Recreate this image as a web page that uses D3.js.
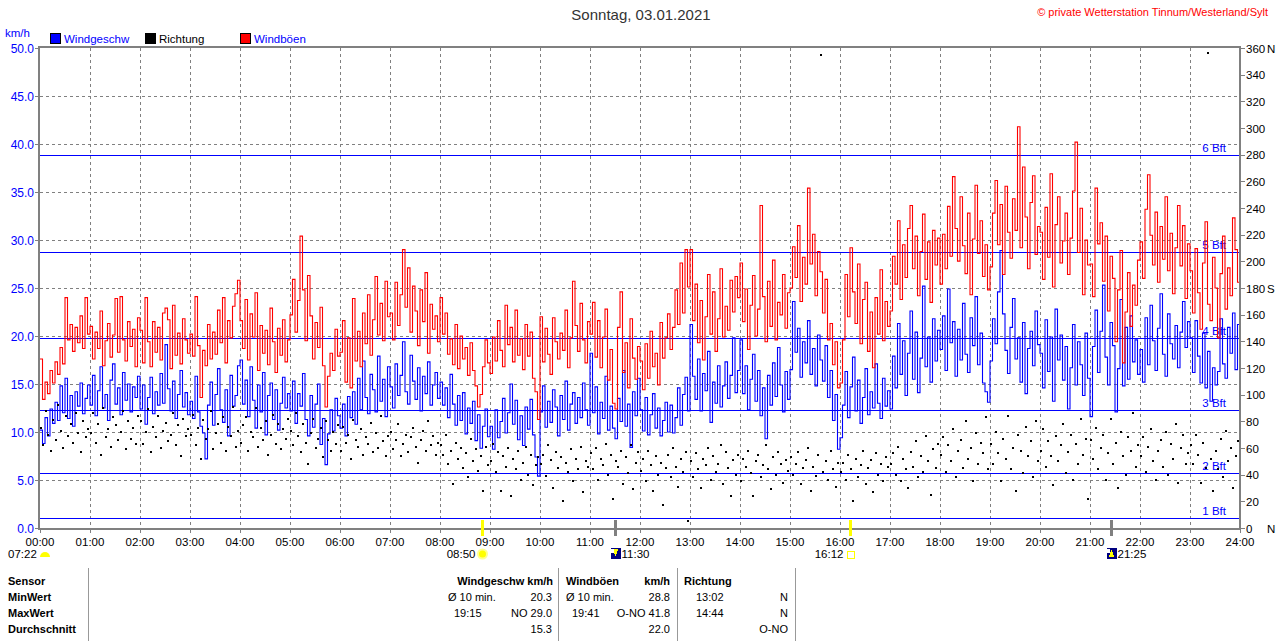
<!DOCTYPE html>
<html><head><meta charset="utf-8">
<script src="https://cdn.jsdelivr.net/npm/d3@7"></script>
<style>body{margin:0;background:#fff}svg{display:block;font-family:"Liberation Sans",Arial,sans-serif}</style>
</head><body><script>
const width = 1280, height = 641;

// 3-minute samples, km/h (one row per hour)
const windSpeed = [
 10.2,8.8,11.5,9.6,12.4,10.9,13.1,11.2,14.8,12.0,15.6,11.4,13.8,10.6,14.2,12.7,15.1,11.9,13.5,14.9,
 12.8,15.9,11.7,14.3,16.8,12.5,13.9,11.2,15.4,17.1,12.9,14.6,11.8,16.2,13.3,15.0,12.1,14.7,13.6,15.8,
 12.4,14.9,10.8,13.6,15.7,11.9,14.2,12.8,16.1,13.0,19.1,14.5,12.2,15.3,11.4,13.9,16.4,12.6,14.1,11.8,
 13.2,11.4,15.8,12.1,10.6,9.9,7.2,12.8,15.2,10.7,13.9,16.6,12.3,11.0,14.4,9.6,15.9,12.7,13.8,16.9,
 17.5,12.9,15.4,11.6,16.8,13.3,10.4,14.9,12.1,16.2,9.7,13.8,15.1,11.3,14.4,10.2,13.0,15.7,12.5,14.0,
 12.2,15.3,10.9,14.0,12.7,16.1,11.3,9.6,13.8,10.5,12.9,15.0,8.7,11.4,6.6,9.8,12.3,10.1,13.5,11.7,
 10.4,12.9,9.6,13.7,11.5,14.2,10.8,15.6,12.3,17.4,13.6,11.9,16.0,14.4,12.1,17.9,13.2,15.5,11.6,16.8,
 14.7,12.5,17.1,13.8,15.9,19.4,14.2,12.9,18.0,15.3,13.4,16.7,12.2,15.8,14.0,17.3,12.8,14.9,16.2,13.5,
 15.2,12.8,14.6,11.5,16.0,12.9,10.7,13.8,11.2,14.1,9.8,12.5,10.9,13.2,9.1,11.8,8.3,10.6,12.4,9.5,
 10.6,8.2,12.3,9.4,11.1,13.5,9.9,12.0,15.0,10.8,13.3,9.2,11.7,8.6,12.6,10.3,13.4,9.7,7.4,5.4,
 12.1,14.8,10.5,13.2,11.0,14.4,12.6,9.6,13.8,11.3,15.3,10.2,12.9,14.1,10.9,13.6,11.5,15.1,12.3,10.7,
 18.2,12.0,14.7,9.8,13.1,11.4,15.8,10.2,12.7,10.4,9.3,13.5,11.1,16.4,10.6,12.9,8.4,14.2,11.7,15.6,
 12.3,10.1,13.6,9.7,11.8,14.0,10.4,12.5,9.6,11.2,13.1,10.0,12.8,9.9,11.5,14.6,10.7,13.9,15.7,12.2,
 21.2,15.8,13.4,17.6,12.2,16.1,14.3,18.4,11.0,15.2,13.0,16.9,12.6,14.8,17.3,13.5,15.9,19.8,14.1,16.4,
 19.6,14.0,16.9,12.3,15.5,18.1,13.2,16.4,11.7,14.6,9.3,15.9,12.8,17.2,13.7,18.8,14.9,12.1,16.3,13.4,
 16.5,23.6,18.3,20.8,15.7,19.4,17.2,21.6,16.0,18.7,14.8,20.1,17.5,15.3,19.0,13.6,16.4,11.2,13.9,8.2,
 9.4,12.8,16.3,11.5,14.7,17.8,12.2,15.4,10.9,13.6,16.6,11.8,14.2,12.5,17.1,13.0,11.4,15.6,12.7,14.3,
 12.4,17.9,14.6,21.3,16.0,19.5,13.8,18.2,22.6,15.5,20.4,14.1,17.7,25.2,16.8,19.9,15.2,21.8,17.4,20.6,
 18.6,22.1,16.4,24.9,19.3,21.5,15.8,20.7,17.5,23.4,18.1,16.2,21.9,19.0,24.1,17.0,20.3,15.1,14.2,13.1,
 17.4,21.8,19.2,24.6,28.9,22.3,18.5,16.1,20.9,23.9,17.6,19.8,15.2,21.4,14.0,18.7,20.5,16.9,22.6,19.1,
 18.2,14.6,21.7,16.3,19.9,13.2,22.8,17.5,20.1,15.4,18.9,12.4,16.7,21.2,14.9,19.4,17.0,13.8,20.3,15.6,
 11.6,18.9,22.7,16.2,20.5,25.3,17.8,14.9,21.4,19.0,12.1,16.6,23.8,14.8,20.9,15.5,22.1,17.3,19.6,16.0,
 18.6,15.2,21.9,17.0,23.2,19.5,16.4,20.8,24.4,18.1,15.8,22.3,19.2,17.6,21.1,16.7,20.4,23.6,18.8,21.5,
 19.8,16.2,21.6,17.9,15.1,20.3,14.6,18.4,13.2,16.7,14.9,16.3,21.8,17.1,15.6,20.9,18.2,22.4,16.5,21.2
];
const windGust = [
 17.6,13.4,15.2,14.0,16.4,15.1,17.3,16.0,18.8,17.1,24.0,19.6,21.2,18.4,20.9,19.3,22.1,18.7,24.0,20.2,
 21.0,17.6,20.4,18.7,22.6,16.9,19.5,21.3,17.8,20.1,23.9,18.3,24.1,19.6,17.4,21.5,18.9,20.7,16.8,21.9,
 20.6,17.2,24.0,19.4,16.8,21.5,18.3,20.9,17.5,22.4,22.9,21.7,16.6,23.2,18.0,20.3,17.1,21.8,19.6,18.2,
 20.2,17.9,24.1,19.0,13.6,18.5,16.9,21.2,17.6,20.4,18.1,22.7,19.3,24.0,17.2,21.6,19.8,23.1,24.4,25.8,
 21.6,18.7,23.8,17.5,22.3,19.9,24.5,16.4,21.1,18.2,20.6,17.0,22.9,19.4,16.2,20.8,18.0,21.7,17.3,19.6,
 22.2,25.9,20.4,23.7,30.4,24.8,19.5,26.3,22.1,17.6,21.4,18.8,23.0,16.9,12.6,15.8,18.2,16.4,20.7,17.9,
 18.3,21.6,15.2,19.8,14.6,23.9,17.4,20.5,16.8,22.4,19.2,24.3,18.0,21.7,26.2,20.1,23.4,19.5,25.7,22.0,
 22.4,19.6,25.6,21.1,24.3,29.0,23.0,27.1,20.4,25.2,22.6,19.0,24.8,21.5,26.6,18.2,23.3,20.7,22.1,19.4,
 24.0,20.2,22.4,18.1,19.7,17.0,21.2,16.6,20.0,17.6,18.8,15.9,19.3,16.4,14.8,12.6,13.9,16.8,19.6,17.2,
 16.1,19.9,17.4,21.6,18.5,16.8,23.2,19.1,20.9,17.3,22.7,18.0,19.7,16.5,21.2,17.9,20.4,15.6,14.2,11.3,
 22.0,17.3,20.8,18.1,16.0,21.9,19.4,17.6,20.3,18.5,22.7,16.7,19.8,25.7,21.1,18.4,23.4,19.6,17.2,21.5,
 20.2,23.5,17.8,21.6,16.7,19.9,22.8,15.4,18.6,13.0,12.4,20.9,24.6,16.2,19.3,14.6,21.8,17.7,15.5,18.9,
 17.4,14.4,19.2,15.6,20.5,16.8,18.2,14.9,21.4,17.7,19.8,22.3,18.6,20.9,24.8,21.2,27.6,22.4,29.0,25.1,
 29.0,21.6,25.4,19.3,23.7,17.5,22.0,26.4,20.2,24.6,18.4,21.8,27.0,19.9,23.1,20.6,25.8,22.5,26.2,24.0,
 27.6,21.5,24.9,18.6,23.2,26.3,20.0,22.8,33.6,24.1,19.4,25.7,21.0,27.9,19.6,23.5,22.2,26.4,20.8,24.5,
 25.0,29.3,26.1,31.5,23.6,28.2,25.4,35.4,27.5,30.6,24.2,28.8,26.7,22.4,25.9,19.6,21.3,17.0,19.4,14.6,
 15.1,19.6,26.4,22.0,29.2,24.6,21.3,27.5,19.2,23.8,25.6,18.4,22.5,16.7,24.0,20.2,26.9,19.5,23.6,21.0,
 22.6,28.3,25.4,32.0,23.8,29.5,26.1,31.2,33.6,27.0,30.4,24.2,28.8,32.7,25.9,29.8,23.5,31.0,27.4,30.2,
 25.4,30.6,27.0,33.5,28.3,36.6,31.2,27.8,34.5,29.4,26.5,32.8,24.3,30.1,35.7,28.6,32.0,26.2,29.5,24.8,
 27.2,32.8,36.2,29.5,33.7,26.4,35.6,30.8,28.1,34.3,31.0,41.8,29.2,37.6,32.4,27.0,33.9,36.7,28.5,31.4,
 30.8,25.9,33.4,28.2,36.9,25.1,31.6,34.5,27.6,29.9,32.8,26.4,30.2,35.1,40.2,28.7,33.3,24.3,30.0,27.4,
 27.5,24.1,35.4,29.6,31.8,25.7,30.4,22.6,28.3,26.0,19.4,24.8,28.9,17.2,22.5,26.6,21.0,25.3,23.2,27.9,
 29.8,26.0,33.2,36.8,30.5,27.4,32.9,25.6,31.4,28.0,34.5,26.8,30.7,24.4,29.2,33.6,27.3,31.5,23.9,29.6,
 26.8,22.4,29.1,24.5,20.7,27.6,31.9,23.3,21.6,28.2,25.0,19.8,26.5,30.4,22.8,27.1,24.2,32.3,29.0,25.6
];
// wind direction, degrees (3-minute samples)
const direction = [
 75,62,88,70,58,81,66,92,73,60,84,69,78,64,86,71,57,80,68,74,
 71,86,64,78,55,90,68,74,61,83,77,66,72,88,59,80,67,75,63,84,
 80,63,72,89,57,76,68,84,60,73,79,65,70,86,62,77,54,82,69,74,
 70,85,62,75,52,81,67,74,88,59,71,78,64,83,58,76,69,91,61,73,
 64,77,83,58,72,68,90,61,75,66,80,55,70,85,63,78,59,74,67,82,
 73,62,86,69,57,78,64,48,71,82,60,67,75,53,80,66,58,72,63,77,
 58,76,64,70,52,81,66,61,74,55,68,63,79,57,71,60,84,65,54,69,
 72,59,66,78,54,63,70,57,68,75,61,49,66,73,58,80,62,69,55,64,
 62,55,70,48,58,33,64,52,60,45,56,38,67,50,59,43,54,28,61,47,
 50,63,42,57,28,54,46,60,24,52,44,58,36,49,61,40,55,32,47,53,
 48,55,39,62,51,30,57,45,53,20,49,42,59,35,52,44,61,27,50,46,
 56,44,60,36,52,47,63,40,55,22,50,46,58,33,53,41,62,29,49,57,
 43,52,35,58,47,28,54,40,49,17,45,55,38,60,46,31,52,42,57,5,
 50,38,56,44,30,52,47,60,36,54,42,48,62,33,57,45,24,51,40,55,
 35,52,46,58,41,24,50,55,38,47,62,44,29,53,40,57,48,34,51,43,
 53,40,48,57,33,45,51,60,28,46,39,55,355,42,50,36,58,44,31,49,
 42,49,36,55,44,20,52,38,47,58,33,45,51,27,56,40,48,35,53,46,
 48,56,40,61,35,52,44,30,57,46,65,38,54,42,69,50,25,59,45,63,
 55,68,42,62,50,74,38,58,66,45,80,52,60,35,71,48,64,56,83,44,
 63,48,72,56,35,67,52,84,44,60,28,70,58,41,76,54,65,38,80,50,
 58,74,46,65,54,32,69,50,62,78,41,57,70,36,63,48,82,55,67,22,
 66,52,75,44,60,70,36,56,82,48,64,30,72,54,40,68,58,86,46,62,
 54,68,42,61,74,50,36,58,66,46,72,40,63,52,78,34,60,70,48,56,
 62,48,70,55,34,64,45,356,52,28,58,44,67,38,73,50,60,30,54,65
];
const stepMin = 3;
const hourLabels = d3.range(0, 25).map(h => String(h).padStart(2, "0") + ":00");
const speedTicks = d3.range(0, 50.1, 5);
const dirTicks = d3.range(0, 361, 20);
const dirLetters = {0: "N", 180: "S", 360: "N"};
const bftNames = ["1 Bft", "2 Bft", "3 Bft", "4 Bft", "5 Bft", "6 Bft"];
const bftMs = [0.3, 1.6, 3.4, 5.5, 8.0, 10.8];
const sunMoon = [
  {label: "07:22", time: null, kind: "dawn"},
  {label: "08:50", time: "08:50", kind: "sunrise"},
  {label: "11:30", time: "11:30", kind: "moonset"},
  {label: "16:12", time: "16:12", kind: "sunset"},
  {label: "21:25", time: "21:25", kind: "moonrise"}
];
const tableRows = ["Sensor", "MinWert", "MaxWert", "Durchschnitt"];
const statsWind = [["Ø 10 min.", "20.3"], ["19:15", "NO 29.0"], ["", "15.3"]];
const statsGust = [["Ø 10 min.", "28.8"], ["19:41", "O-NO 41.8"], ["", "22.0"]];
const statsDir = [["13:02", "N"], ["14:44", "N"], ["", "O-NO"]];

const svg = d3.select("body").append("svg").attr("width", width).attr("height", height)
  .attr("shape-rendering", "crispEdges");

const x = d3.scaleLinear().domain([0, 1440]).range([40, 1240]);
const y = d3.scaleLinear().domain([0, 50]).range([528, 48]);
const yDir = d3.scaleLinear().domain([0, 360]).range([528, 48]);
const toMin = s => { const [h, m] = s.split(":"); return +h * 60 + +m; };
const BLUE = "#0000ff", GRAY = "#808080";

// title + copyright
svg.append("text").attr("x", 641).attr("y", 20).attr("text-anchor", "middle")
  .attr("font-size", 15).attr("fill", "#333").text("Sonntag, 03.01.2021");
svg.append("text").attr("x", 1268).attr("y", 16).attr("text-anchor", "end")
  .attr("font-size", 11).attr("fill", "#f00").text("© private Wetterstation Tinnum/Westerland/Sylt");

// legend
svg.append("text").attr("x", 5).attr("y", 37).attr("font-size", 11.5).attr("fill", BLUE).text("km/h");
const legendItems = [
  {x: 50, color: BLUE, label: "Windgeschw", tc: BLUE},
  {x: 145, color: "#000", label: "Richtung", tc: "#000"},
  {x: 240, color: "#f00", label: "Windböen", tc: BLUE}
];
legendItems.forEach(d => {
  svg.append("rect").attr("x", d.x).attr("y", 33).attr("width", 10).attr("height", 10)
    .attr("fill", d.color).attr("stroke", "#000").attr("stroke-width", 1);
  svg.append("text").attr("x", d.x + 14).attr("y", 42.5).attr("font-size", 11.5)
    .attr("fill", d.tc).text(d.label);
});

// grid
const grid = svg.append("g").attr("stroke", GRAY).attr("stroke-dasharray", "3,3").attr("stroke-width", 1);
grid.selectAll(".v").data(d3.range(1, 24)).join("line")
  .attr("x1", h => x(h * 60) + 0.5).attr("x2", h => x(h * 60) + 0.5).attr("y1", 48).attr("y2", 528);
grid.selectAll(".h").data(speedTicks.slice(1, -1)).join("line")
  .attr("x1", 40).attr("x2", 1240).attr("y1", d => Math.round(y(d)) + 0.5).attr("y2", d => Math.round(y(d)) + 0.5);

// Beaufort lines + labels
bftMs.forEach((ms, i) => {
  const yy = Math.round(y(ms * 3.6)) + 0.5;
  svg.append("line").attr("x1", 40).attr("x2", 1240).attr("y1", yy).attr("y2", yy)
    .attr("stroke", BLUE).attr("stroke-width", 1.2);
  svg.append("text").attr("x", 1226).attr("y", yy - 4).attr("text-anchor", "end")
    .attr("font-size", 11.5).attr("fill", BLUE).text(bftNames[i]);
});

// series
const windPts = windSpeed.map((v, i) => [i * stepMin, v]).concat([[1440, windSpeed[windSpeed.length - 1]]]);
const gustPts = windGust.map((v, i) => [i * stepMin, v]).concat([[1440, windGust[windGust.length - 1]]]);
const line = d3.line().x(d => x(d[0])).y(d => y(d[1])).curve(d3.curveStepAfter);

svg.append("path").datum(windPts).attr("d", line).attr("fill", "none")
  .attr("stroke", BLUE).attr("stroke-width", 1.1).attr("shape-rendering", "auto");
svg.append("g").selectAll("rect").data(direction).join("rect")
  .attr("x", (d, i) => Math.round(x(i * stepMin + 1)) - 1).attr("y", d => Math.round(yDir(d)) - 1)
  .attr("width", 2).attr("height", 2).attr("fill", "#000");
svg.append("path").datum(gustPts).attr("d", line).attr("fill", "none")
  .attr("stroke", "#f00").attr("stroke-width", 1.1).attr("shape-rendering", "auto");

// frame
svg.append("rect").attr("x", 39).attr("y", 47).attr("width", 1201).attr("height", 482)
  .attr("fill", "none").attr("stroke", GRAY).attr("stroke-width", 2.5);

// left axis
speedTicks.forEach(t => {
  const yy = Math.round(y(t)) + 0.5;
  svg.append("line").attr("x1", 35).attr("x2", 39).attr("y1", yy).attr("y2", yy).attr("stroke", GRAY);
  svg.append("text").attr("x", 34).attr("y", y(t) + 4.5).attr("text-anchor", "end")
    .attr("font-size", 12).attr("fill", BLUE).text(t.toFixed(1));
});
// right axis
dirTicks.forEach(t => {
  const yy = Math.round(yDir(t)) + 0.5;
  svg.append("line").attr("x1", 1240).attr("x2", 1245).attr("y1", yy).attr("y2", yy).attr("stroke", GRAY);
  svg.append("text").attr("x", 1246).attr("y", yDir(t) + 4.5).attr("font-size", 11.5).attr("fill", "#000").text(t);
  if (dirLetters[t]) svg.append("text").attr("x", 1267).attr("y", yDir(t) + 4.5)
    .attr("font-size", 11.5).attr("fill", "#000").text(dirLetters[t]);
});
// bottom axis
hourLabels.forEach((lab, h) => {
  const xx = Math.round(x(h * 60)) + 0.5;
  svg.append("line").attr("x1", xx).attr("x2", xx).attr("y1", 529).attr("y2", 533).attr("stroke", GRAY);
  svg.append("text").attr("x", x(h * 60)).attr("y", 546).attr("text-anchor", "middle")
    .attr("font-size", 11.5).attr("fill", "#000").text(lab);
});

// sun / moon events
sunMoon.forEach(ev => {
  const isMoon = ev.kind.startsWith("moon");
  const xx = ev.time ? Math.round(x(toMin(ev.time))) + 0.5 : 45;
  if (ev.time) {
    svg.append("line").attr("x1", xx).attr("x2", xx).attr("y1", 520).attr("y2", 536)
      .attr("stroke", isMoon ? GRAY : "#ffff00").attr("stroke-width", 3);
  }
  const g = svg.append("g").attr("transform", `translate(${xx},554)`);
  if (ev.kind === "dawn") {
    g.append("path").attr("d", "M-5,3 A5,5 0 0 1 5,3 Z").attr("fill", "#ffff00").attr("shape-rendering", "auto");
  } else if (ev.kind === "sunrise") {
    g.append("circle").attr("r", 4.5).attr("fill", "#ffff00").attr("stroke", "#ffff90").attr("stroke-width", 2).attr("shape-rendering", "auto");
  } else if (ev.kind === "sunset") {
    g.append("rect").attr("x", -3).attr("y", -3).attr("width", 7).attr("height", 7).attr("fill", "#fff").attr("stroke", "#ffff00");
  } else {
    g.append("rect").attr("x", -5).attr("y", -6).attr("width", 10).attr("height", 11).attr("fill", "#000080");
    g.append("path").attr("d", ev.kind === "moonset" ? "M-3,-5 L3,-5 L0,2 Z" : "M-3,3 L3,3 L0,-4 Z").attr("fill", "#ffff00");
    g.append("circle").attr("cx", -3).attr("cy", -3).attr("r", 2).attr("fill", "#fff");
  }
  const right = ev.kind === "sunrise" || ev.kind === "sunset";
  svg.append("text").attr("x", ev.kind === "dawn" ? 8 : right ? xx - 7 : xx + 6).attr("y", 558)
    .attr("text-anchor", right ? "end" : "start").attr("font-size", 11.5).attr("fill", "#000").text(ev.label);
});

// stats table
[88, 558, 677, 795].forEach(xx => svg.append("line").attr("x1", xx + 0.5).attr("x2", xx + 0.5)
  .attr("y1", 568).attr("y2", 641).attr("stroke", "#999"));
const rowY = [585, 601, 617, 633];
const tbl = svg.append("g").attr("font-size", 11).attr("fill", "#000");
tableRows.forEach((r, i) => tbl.append("text").attr("x", 8).attr("y", rowY[i]).attr("font-weight", "bold").text(r));
tbl.append("text").attr("x", 553).attr("y", rowY[0]).attr("text-anchor", "end").attr("font-weight", "bold").text("Windgeschw km/h");
tbl.append("text").attr("x", 566).attr("y", rowY[0]).attr("font-weight", "bold").text("Windböen");
tbl.append("text").attr("x", 670).attr("y", rowY[0]).attr("text-anchor", "end").attr("font-weight", "bold").text("km/h");
tbl.append("text").attr("x", 684).attr("y", rowY[0]).attr("font-weight", "bold").text("Richtung");
const cols = [{stats: statsWind, l: 448, r: 552}, {stats: statsGust, l: 566, r: 670}, {stats: statsDir, l: 690, r: 788}];
cols.forEach(c => c.stats.forEach((s, i) => {
  const lx = s[0].startsWith("Ø") ? c.l : c.l + 6;
  tbl.append("text").attr("x", lx).attr("y", rowY[i + 1]).text(s[0]);
  tbl.append("text").attr("x", c.r).attr("y", rowY[i + 1]).attr("text-anchor", "end").text(s[1]);
}));
</script></body></html>
